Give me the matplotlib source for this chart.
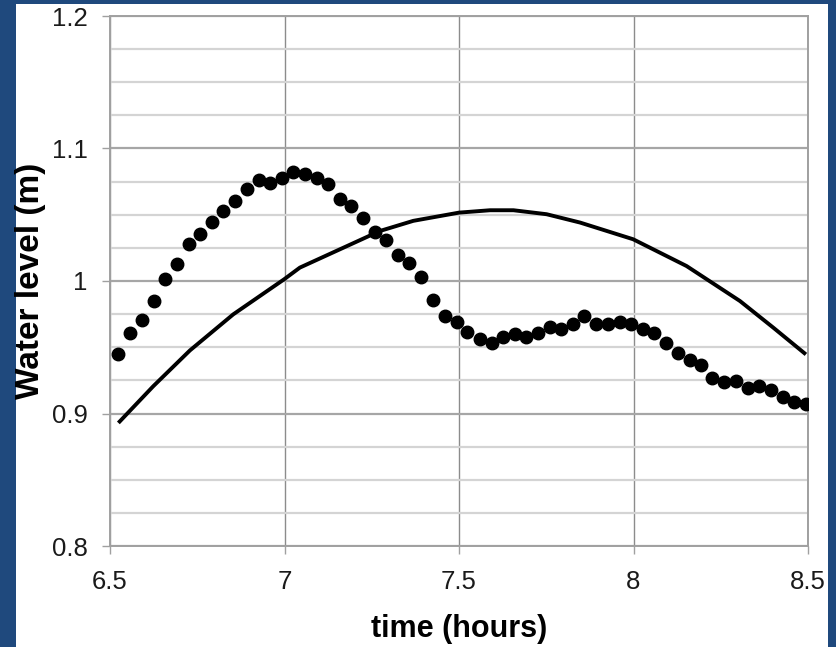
import matplotlib.pyplot as plt
from matplotlib.patches import Rectangle
from matplotlib.ticker import MultipleLocator

plt.rcParams["font.family"] = ["Liberation Sans", "DejaVu Sans"]

# measured water level (dots), time in hours
obs_time = [6.524, 6.557, 6.593, 6.625, 6.659, 6.692, 6.725, 6.758, 6.792, 6.825,
            6.859, 6.892, 6.927, 6.959, 6.992, 7.024, 7.058, 7.093, 7.126, 7.159,
            7.191, 7.226, 7.259, 7.291, 7.325, 7.357, 7.392, 7.426, 7.460, 7.493,
            7.524, 7.559, 7.594, 7.626, 7.660, 7.692, 7.726, 7.760, 7.792, 7.827,
            7.859, 7.893, 7.926, 7.960, 7.994, 8.028, 8.060, 8.093, 8.127, 8.162,
            8.193, 8.226, 8.260, 8.293, 8.327, 8.360, 8.393, 8.427, 8.461, 8.493]
obs_level = [0.9446, 0.9609, 0.9705, 0.9849, 1.0013, 1.0126, 1.0277, 1.0358, 1.0446, 1.0529,
             1.0605, 1.0693, 1.0761, 1.0743, 1.0781, 1.0826, 1.0811, 1.0781, 1.0735, 1.0618,
             1.0567, 1.0474, 1.0370, 1.0308, 1.0195, 1.0138, 1.0033, 0.9856, 0.9735, 0.9690,
             0.9615, 0.9559, 0.9534, 0.9577, 0.9597, 0.9577, 0.9605, 0.9652, 0.9635, 0.9677,
             0.9735, 0.9677, 0.9677, 0.9688, 0.9673, 0.9635, 0.9605, 0.9529, 0.9454, 0.9403,
             0.9365, 0.9265, 0.9239, 0.9244, 0.9193, 0.9206, 0.9176, 0.9123, 0.9088, 0.9073]

# model curve (solid line)
mod_time = [6.524, 6.624, 6.729, 6.853, 6.999, 7.044, 7.274, 7.369, 7.500,
            7.589, 7.656, 7.751, 7.847, 7.999, 8.152, 8.305, 8.401, 8.494]
mod_level = [0.8929, 0.9206, 0.9476, 0.9748, 1.0013, 1.0101, 1.0378, 1.0454, 1.0516,
             1.0534, 1.0534, 1.0504, 1.0441, 1.0315, 1.0113, 0.9849, 0.9647, 0.9446]

W, H = 836, 647
fig = plt.figure(figsize=(W / 100, H / 100), dpi=100)
fig.patch.set_facecolor("#1F497D")
# white slide panel
fig.patches.append(Rectangle((16 / W, 0), 812 / W, 643 / H, transform=fig.transFigure,
                             facecolor="white", edgecolor="none", zorder=-5))

ax = fig.add_axes([110 / W, 1 - 546 / H, 698 / W, 530 / H])
ax.set_zorder(2)
ax.set_facecolor("white")

ax.plot(mod_time, mod_level, color="black", lw=2.8, solid_capstyle="butt", zorder=3)
ax.plot(obs_time, obs_level, "o", color="black", ms=9, zorder=4)

ax.set_xlim(6.5, 8.5)
ax.set_ylim(0.8, 1.2)
ax.yaxis.set_minor_locator(MultipleLocator(0.025))
ax.set_xticks([6.5, 7, 7.5, 8, 8.5], ["6.5", "7", "7.5", "8", "8.5"])
ax.set_yticks([0.8, 0.9, 1.0, 1.1, 1.2], ["0.8", "0.9", "1", "1.1", "1.2"])

ax.grid(axis="x", which="major", color="#8C8C8C", lw=1.0)
ax.grid(axis="y", which="major", color="#A6A6A6", lw=1.6)
ax.grid(axis="y", which="minor", color="#D4D4D4", lw=1.6)
ax.set_axisbelow(True)

for s in ax.spines.values():
    s.set_color("#A0A0A0")
    s.set_linewidth(1.4)

ax.tick_params(axis="both", which="major", direction="out", length=6, width=1,
               color="#A0A0A0", labelsize=18.5, labelcolor="#1a1a1a")
ax.tick_params(axis="y", which="major", pad=10)
ax.tick_params(axis="x", which="major", pad=11)
ax.tick_params(axis="y", which="minor", length=0)

ax.set_xlabel("time (hours)", fontsize=22, fontweight="bold", labelpad=15)
ax.set_ylabel("Water level (m)", fontsize=24, fontweight="bold", labelpad=4)

fig.savefig("out.png", dpi=100, facecolor=fig.get_facecolor())
